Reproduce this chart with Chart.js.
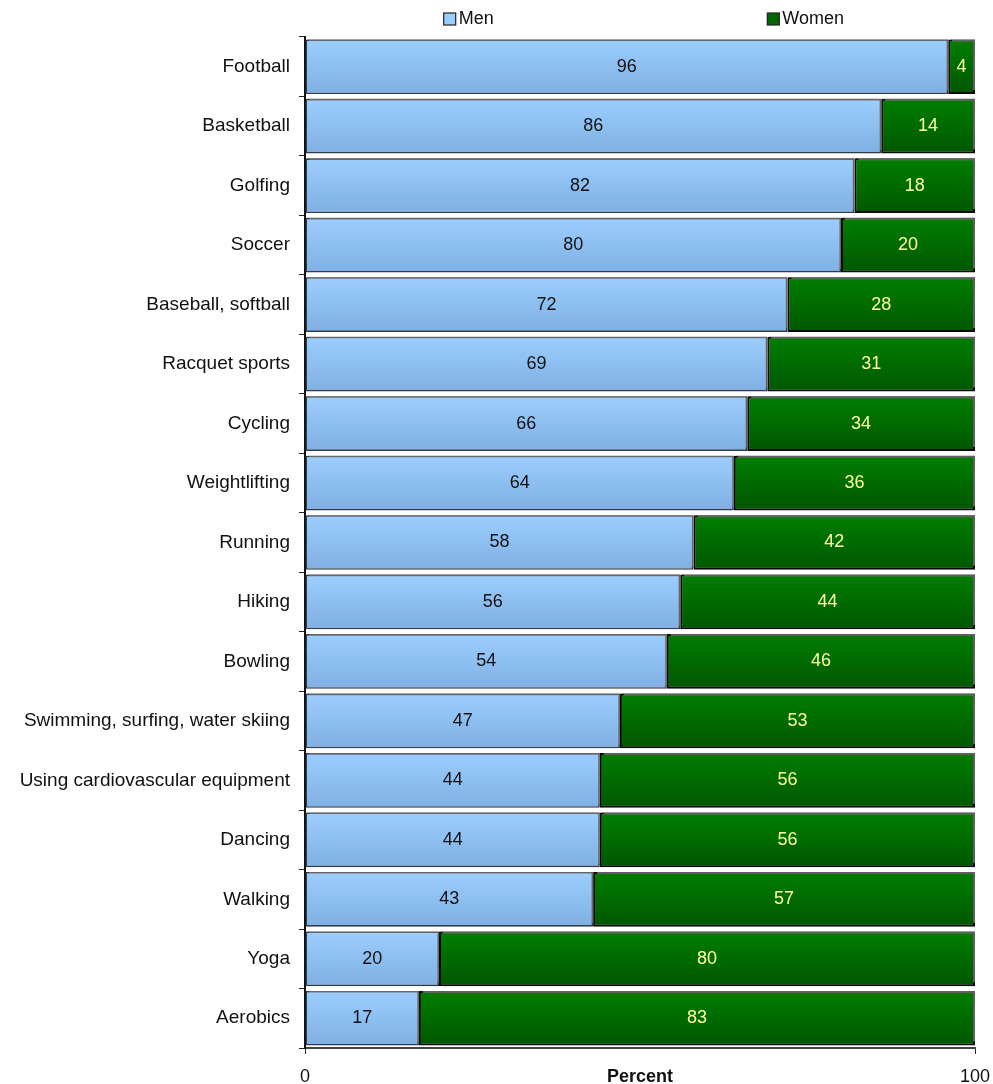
<!DOCTYPE html>
<html>
<head>
<meta charset="utf-8">
<script src="https://cdn.jsdelivr.net/npm/chart.js@4"></script>
<style>
  body { margin: 0; background: #fff; }
  #wrap { width: 993px; height: 1084px; }
</style>
</head>
<body>
<div id="wrap"><canvas id="chart" width="993" height="1084"></canvas></div>
<script>
const sports = ['Football', 'Basketball', 'Golfing', 'Soccer', 'Baseball, softball', 'Racquet sports',
  'Cycling', 'Weightlifting', 'Running', 'Hiking', 'Bowling', 'Swimming, surfing, water skiing',
  'Using cardiovascular equipment', 'Dancing', 'Walking', 'Yoga', 'Aerobics'];
const men = [96, 86, 82, 80, 72, 69, 66, 64, 58, 56, 54, 47, 44, 44, 43, 20, 17];
const women = [4, 14, 18, 20, 28, 31, 34, 36, 42, 44, 46, 53, 56, 56, 57, 80, 83];
const xTicks = [0, 100];

const FONT = "'Liberation Sans', Arial, sans-serif";

// vertical gradient per bar (light top, darker bottom)
function barGradient(top, bottom) {
  return function(c) {
    const chart = c.chart;
    const y = chart.scales.y;
    if (!chart.chartArea || !y) return top;
    const band = y.height / sports.length;
    const yc = y.getPixelForValue(c.dataIndex);
    const g = chart.ctx.createLinearGradient(0, yc - band / 2, 0, yc + band / 2);
    g.addColorStop(0, top);
    g.addColorStop(1, bottom);
    return g;
  };
}

const shadowPlugin = {
  id: 'barShadow',
  beforeDatasetsDraw(chart) {
    const ctx = chart.ctx;
    ctx.save();
    ctx.shadowColor = 'rgba(110,110,110,0.85)';
    ctx.shadowOffsetX = 2;
    ctx.shadowOffsetY = -2;
    ctx.shadowBlur = 0;
  },
  afterDatasetsDraw(chart) {
    chart.ctx.restore();
  }
};

const valueLabels = {
  id: 'valueLabels',
  afterDatasetsDraw(chart) {
    const ctx = chart.ctx;
    ctx.save();
    ctx.font = '18px ' + FONT;
    ctx.textAlign = 'center';
    ctx.textBaseline = 'middle';
    chart.data.datasets.forEach((ds, i) => {
      const meta = chart.getDatasetMeta(i);
      ctx.fillStyle = i === 0 ? '#111' : '#FFFF99';
      meta.data.forEach((bar, j) => {
        ctx.fillText(ds.data[j], (bar.x + bar.base) / 2, bar.y);
      });
    });
    ctx.restore();
  }
};

// legend spread over the plot width like the original
const topLegend = {
  id: 'topLegend',
  afterDraw(chart) {
    const ctx = chart.ctx;
    const a = chart.chartArea;
    const items = [
      { text: 'Men', color: '#99CCFF', at: 0.207 },
      { text: 'Women', color: '#006600', at: 0.69 }
    ];
    ctx.save();
    ctx.font = '18px ' + FONT;
    ctx.textBaseline = 'middle';
    items.forEach(it => {
      const x = a.left + a.width * it.at;
      const y = 19;
      ctx.fillStyle = it.color;
      ctx.fillRect(x, y - 6, 12, 12);
      ctx.strokeStyle = '#222';
      ctx.lineWidth = 1.2;
      ctx.strokeRect(x, y - 6, 12, 12);
      ctx.fillStyle = '#111';
      ctx.fillText(it.text, x + 15, y);
    });
    ctx.restore();
  }
};

new Chart(document.getElementById('chart').getContext('2d'), {
  type: 'bar',
  data: {
    labels: sports,
    datasets: [{
      label: 'Men',
      data: men,
      backgroundColor: barGradient('#9DCFFF', '#7EAEE2'),
      borderColor: '#2e3c4c',
      borderWidth: 1.6,
      borderSkipped: false,
      categoryPercentage: 1,
      barPercentage: 0.92
    }, {
      label: 'Women',
      data: women,
      backgroundColor: barGradient('#008000', '#005500'),
      borderColor: '#0a0a0a',
      borderWidth: 2,
      borderSkipped: false,
      categoryPercentage: 1,
      barPercentage: 0.92
    }]
  },
  options: {
    indexAxis: 'y',
    responsive: false,
    animation: false,
    layout: { padding: { top: 37, right: 18, left: 0, bottom: 0 } },
    plugins: {
      legend: { display: false },
      tooltip: { enabled: false }
    },
    scales: {
      x: {
        stacked: true,
        min: 0,
        max: 100,
        afterBuildTicks(scale) {
          scale.ticks = xTicks.map(v => ({ value: v }));
        },
        afterFit(scale) {
          scale.height = 36;
          scale.paddingLeft = 0;
          scale.paddingRight = 0;
        },
        grid: { drawOnChartArea: false, tickLength: 6, color: '#222' },
        border: { color: '#444', width: 2 },
        ticks: { color: '#111', padding: 12, maxRotation: 0, font: { family: FONT, size: 18 } },
        title: {
          display: true,
          text: 'Percent',
          color: '#111',
          padding: { top: 0, bottom: -4 },
          font: { family: FONT, size: 18, weight: 'bold' }
        }
      },
      y: {
        stacked: true,
        afterFit(scale) { scale.width = 305; },
        grid: { drawOnChartArea: false, offset: true, tickLength: 6, color: '#222' },
        border: { color: '#111', width: 2 },
        ticks: { color: '#111', padding: 9, font: { family: FONT, size: 19 } }
      }
    }
  },
  plugins: [shadowPlugin, valueLabels, topLegend]
});
</script>
</body>
</html>
